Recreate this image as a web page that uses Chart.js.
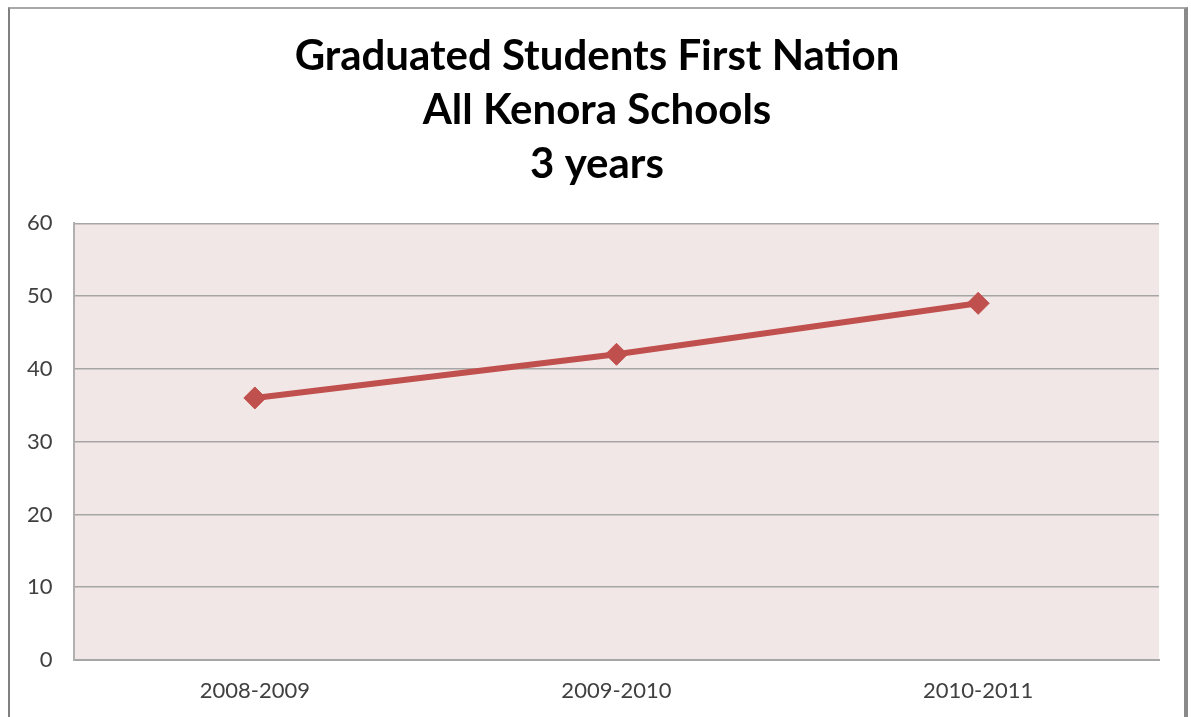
<!DOCTYPE html>
<html>
<head>
<meta charset="utf-8">
<script src="https://cdn.jsdelivr.net/npm/chart.js@4"></script>
<style>
  html, body { margin: 0; padding: 0; background: #fff; }
  #wrap { position: relative; width: 1191px; height: 717px; }
  #frame {
    position: absolute; left: 8px; top: 7px; width: 1174px; height: 720px;
    border-left: 2px solid #808080; border-top: 2px solid #a8a8a8; border-right: 4px solid #8a8a8a;
    pointer-events: none;
  }
</style>
</head>
<body>
<div id="wrap">
  <canvas id="grafico" width="1191" height="717"></canvas>
  <div id="frame"></div>
</div>
<script>
// dados do gráfico
const anos = ["2008-2009", "2009-2010", "2010-2011"];
const graduados = [36, 42, 49];
const titulo = ["Graduated Students First Nation", "All Kenora Schools", "3 years"];
const yMin = 0, yMax = 60, yPasso = 10;

// fundo rosado da área do gráfico
const fundoArea = {
  id: "fundoArea",
  beforeDraw(chart) {
    const a = chart.chartArea, ctx = chart.ctx;
    ctx.save();
    ctx.fillStyle = "#f2e7e7";
    ctx.fillRect(a.left, a.top, a.right - a.left, a.bottom - a.top);
    ctx.restore();
  }
};

const config = {
  type: "line",
  data: {
    labels: anos,
    datasets: [{
      label: "Graduated",
      data: graduados,
      borderColor: "#c0504d",
      backgroundColor: "#c0504d",
      borderWidth: 6,
      pointStyle: "rectRot",
      pointRadius: 11,
      pointBorderWidth: 1,
      pointBackgroundColor: "#c0504d",
      pointBorderColor: "#c0504d",
      tension: 0
    }]
  },
  options: {
    responsive: false,
    animation: false,
    layout: { padding: { left: 35, right: 32, top: 0, bottom: 0 } },
    plugins: {
      legend: { display: false },
      tooltip: { enabled: false },
      title: {
        display: true,
        text: titulo,
        color: "#000",
        font: { family: "Lato", size: 42, weight: "bold", lineHeight: 1.28 },
        padding: { top: 30, bottom: 32 }
      }
    },
    scales: {
      x: {
        offset: true,
        grid: { display: false, drawTicks: false },
        border: { display: true, color: "#a6a6a6", width: 2 },
        ticks: { color: "#404040", font: { family: "Lato", size: 22 }, padding: 18 },
        afterFit(s) { s.height = 57; }
      },
      y: {
        min: yMin,
        max: yMax,
        grid: { color: "#a6a6a6", lineWidth: 1.5, drawTicks: false },
        border: { display: true, color: "#b0b0b0", width: 2 },
        // mirror evita o recorte dos rótulos; padding negativo os coloca à esquerda do eixo
        ticks: { stepSize: yPasso, color: "#404040", font: { family: "Lato", size: 22 },
                 mirror: true, crossAlign: "far", padding: -47 },
        afterFit(s) { s.width = 39; }
      }
    }
  },
  plugins: [fundoArea]
};

new Chart(document.getElementById("grafico"), config);
</script>
</body>
</html>
